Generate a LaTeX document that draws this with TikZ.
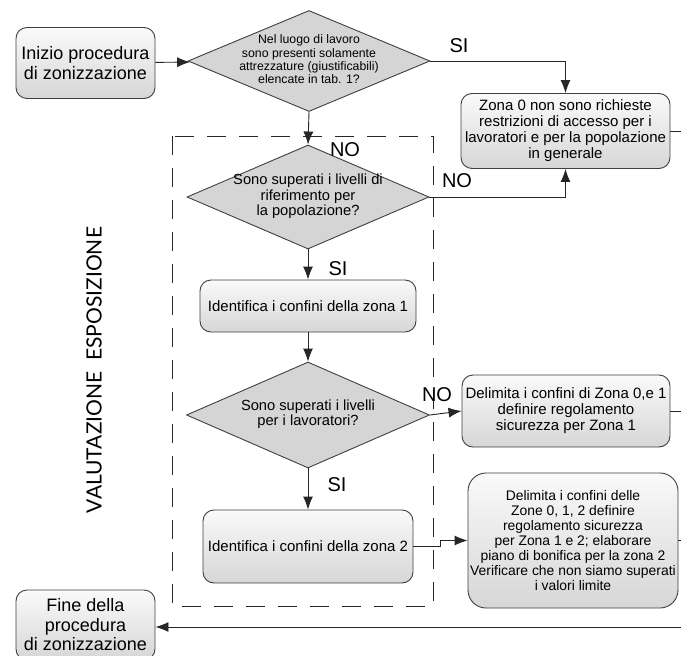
\documentclass[tikz,border=0pt]{standalone}
\usepackage{fontspec}
\setmainfont{Liberation Sans}
\newfontfamily\vfont{Lato}
\usetikzlibrary{shapes.geometric,arrows.meta}
\definecolor{edge}{gray}{0.25}
\begin{document}
\begin{tikzpicture}[x=1pt,y=-1pt,
  box/.style={draw=edge, line width=0.9pt, rounded corners=11pt, top color=gray!4, bottom color=gray!32, align=center, inner sep=2pt},
  dec/.style={draw=edge, line width=0.9pt, diamond, fill=gray!33, inner sep=0pt},
  arr/.style={draw=black!85, line width=0.9pt, -{Latex[length=13pt,width=10pt]}},
  ln/.style={draw=black!85, line width=0.9pt},
  lab/.style={font=\fontsize{20}{22}\selectfont, inner sep=0pt},
  big/.style={font=\fontsize{18}{19.5}\selectfont},
  mid/.style={font=\fontsize{15}{16}\selectfont}]
\useasboundingbox (0,0) rectangle (681,656);
\clip (0,0) rectangle (681,656);
\fill[white] (0,0) rectangle (681,656);

% frame
\draw[ln, dash pattern=on 19pt off 13pt] (172,136) rectangle (433,606);

% nodes
\node[box, big, minimum width=139pt, minimum height=71pt] (ini) at (85.5,63) {Inizio procedura\\di zonizzazione};
\node[dec, minimum width=242pt, minimum height=101pt] (d1) at (309,61)
  {\makebox[0pt]{\fontsize{12.3}{13.3}\selectfont\begin{tabular}{@{}c@{}}Nel luogo di lavoro\\sono presenti solamente\\attrezzature (giustificabili)\\elencate in tab. 1?\end{tabular}}};
\node[box, mid, minimum width=209pt, minimum height=75pt] (z0) at (565.5,131)
  {Zona 0 non sono richieste\\restrizioni di accesso per i\\lavoratori e per la popolazione\\in generale};
\node[dec, minimum width=242pt, minimum height=104pt] (d2) at (308,197)
  {\makebox[0pt]{\fontsize{14.7}{15}\selectfont\begin{tabular}{@{}c@{}}Sono superati i livelli di\\riferimento per\\la popolazione?\end{tabular}}};
\node[box, mid, minimum width=216pt, minimum height=52pt] (z1) at (308,306) {Identifica i confini della zona 1};
\node[dec, minimum width=243pt, minimum height=106pt] (d3) at (308,415)
  {\makebox[0pt]{\fontsize{14.7}{15.5}\selectfont\begin{tabular}{@{}c@{}}Sono superati i livelli\\per i lavoratori?\end{tabular}}};
\node[box, mid, minimum width=208pt, minimum height=72pt] (b2) at (566,411)
  {Delimita i confini di Zona 0,e 1\\definire regolamento\\sicurezza per Zona 1};
\node[box, mid, minimum width=210pt, minimum height=73pt] (z2) at (308,546.5) {Identifica i confini della zona 2};
\node[box, rounded corners=18pt, font=\fontsize{13.9}{15}\selectfont, minimum width=210pt, minimum height=135pt] (b4) at (573,540.5)
  {Delimita i confini delle\\Zone 0, 1, 2 definire\\regolamento sicurezza\\per Zona 1 e 2; elaborare\\piano di bonifica per la zona 2\\Verificare che non siamo superati\\i valori limite};
\node[box, big, minimum width=139pt, minimum height=70pt] (fin) at (85.5,625) {Fine della\\procedura\\di zonizzazione};

\node[rotate=90, inner sep=0pt] (vt) at (94,370) {\resizebox{286pt}{!}{\vfont\fontsize{20}{22}\selectfont VALUTAZIONE\ \ ESPOSIZIONE}};

% edge coordinates
\coordinate (rx) at (681,0);
\coordinate (jog) at (440,0);
\coordinate (bot) at (681,627);

% connectors
\draw[arr] (ini) -- (d1);
\draw[arr] (d1.east) -| (z0.north);
\draw[arr] (d2.east) -| (z0.south);
\draw[arr] (d1.south) -- (d2.north);
\draw[arr] (d2.south) -- (z1.north);
\draw[arr] (z1.south) -- (d3.north);
\draw[arr] (d3.east) -- (b2.west);
\draw[arr] (d3.south) -- (z2.north);
\draw[arr] (z2.east) -- (z2.east -| jog) |- (b4.west);
\draw[ln] (z0.east) -- (z0.east -| rx);
\draw[ln] (b2.east) -- (b2.east -| rx);
\draw[ln] (b4.east) -- (b4.east -| rx);
\draw[arr] (bot) -- (bot -| fin.east);

% labels
\node[lab] (l1) at (459,46) {SI};
\node[lab] (l2) at (345,150) {NO};
\node[lab] (l3) at (457,181) {NO};
\node[lab] (l4) at (338,269) {SI};
\node[lab] (l5) at (437,395) {NO};
\node[lab] (l6) at (337,485) {SI};
\end{tikzpicture}
\end{document}
